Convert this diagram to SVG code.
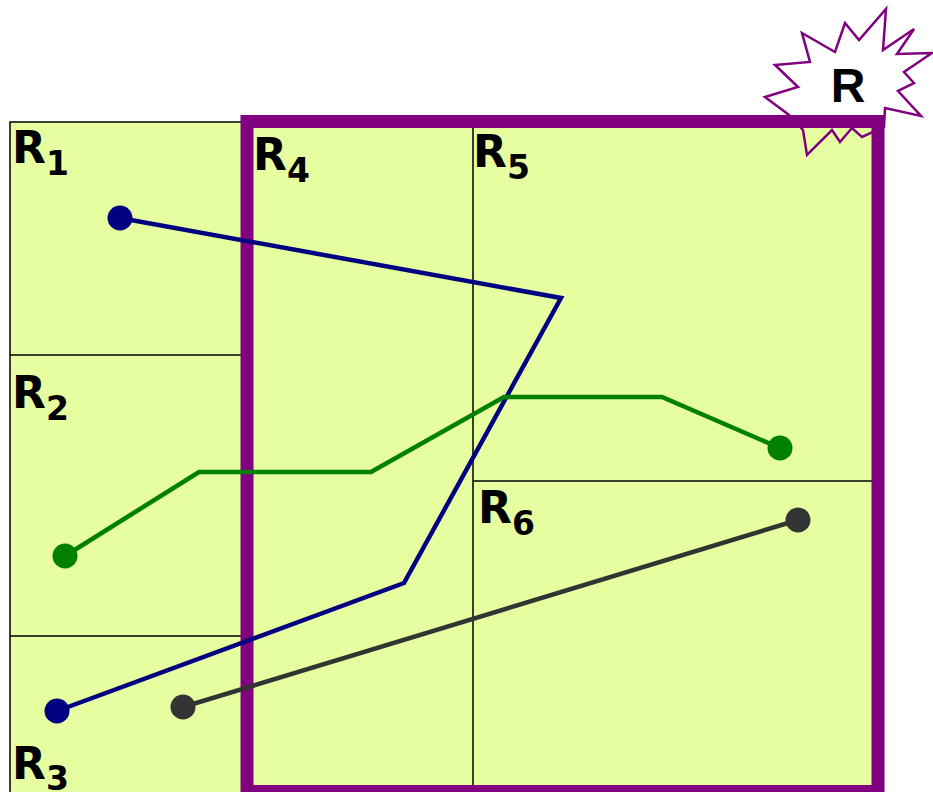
<svg xmlns="http://www.w3.org/2000/svg" width="933" height="792" viewBox="0 0 933 792">
<style>
.cell{fill:#e6fe9f;stroke:none}
.grid{stroke:#000;stroke-width:1.5;fill:none}
.lbl{font-family:"DejaVu Sans",Verdana,sans-serif;font-weight:bold;font-size:44px;fill:#000}
.sub{font-size:33px}
.conn{fill:none;stroke-width:4.5;stroke-linejoin:miter}
</style>
<rect width="933" height="792" fill="#fff"/>
<g id="left-cells">
<rect class="cell" x="10" y="122" width="237" height="680"/>
<path class="grid" d="M10 802V122H247M10 355H247M10 636H247"/>
</g>
<g id="R">
<rect class="cell" x="247" y="121.5" width="631" height="680"/>
<path class="grid" d="M473 128V792M473 481H872"/>
</g>
<g id="burst">
<polygon fill="none" stroke="#800080" stroke-width="2.5" stroke-linejoin="miter" points="886,9 883,50 914,29 897,54 932,53 904,72 914,83 898,91 921,116 885,108 884,127 862,137 852,128 840,142 832,130 807,155 803,130 789,115 765,97 798,87 775,65 810,62 802,33 835,52 845,23 859,40"/>
<text x="848" y="102" text-anchor="middle" style="font-family:'Liberation Sans',Arial,sans-serif;font-weight:bold;font-size:48px">R</text>
</g>
<rect x="247" y="121.5" width="631" height="670" fill="none" stroke="#800080" stroke-width="13"/>
<g id="labels">
<text class="lbl" x="12" y="163">R<tspan class="sub" dy="12">1</tspan></text>
<text class="lbl" x="12" y="408">R<tspan class="sub" dy="12">2</tspan></text>
<text class="lbl" x="12" y="779">R<tspan class="sub" dy="11">3</tspan></text>
<text class="lbl" x="253" y="170">R<tspan class="sub" dy="12">4</tspan></text>
<text class="lbl" x="473" y="167">R<tspan class="sub" dy="12">5</tspan></text>
<text class="lbl" x="478" y="523">R<tspan class="sub" dy="12">6</tspan></text>
</g>
<g id="connectors">
<polyline class="conn" stroke="#000080" points="120,218 561,298 404,583 57,711"/>
<polyline class="conn" stroke="#008000" points="65,556 199,472 371,472 504,397 662,397 780,448"/>
<polyline class="conn" stroke="#333333" points="183,707 798,520"/>
<circle cx="120" cy="218" r="12.5" fill="#000080"/>
<circle cx="57" cy="711" r="12.5" fill="#000080"/>
<circle cx="65" cy="556" r="12.5" fill="#008000"/>
<circle cx="780" cy="448" r="12.5" fill="#008000"/>
<circle cx="183" cy="707" r="12.5" fill="#333333"/>
<circle cx="798" cy="520" r="12.5" fill="#333333"/>
</g>
</svg>
